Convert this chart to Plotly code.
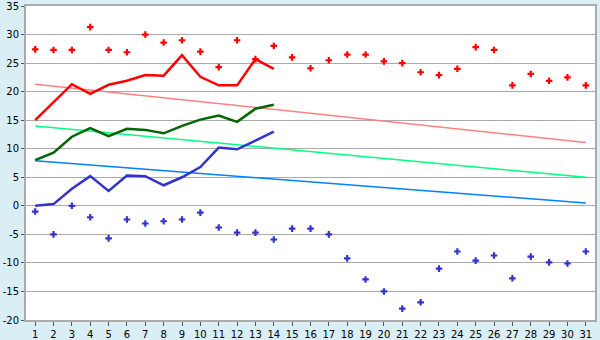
import plotly.graph_objects as go

days = list(range(1, 32))

max_points = [27.4, 27.3, 27.3, 31.3, 27.3, 26.9, 30.0, 28.6, 29.0, 27.0,
              24.3, 29.0, 25.7, 28.0, 26.0, 24.1, 25.5, 26.5, 26.5, 25.3,
              25.0, 23.4, 22.9, 24.0, 27.8, 27.3, 21.1, 23.1, 21.9, 22.5, 21.1]
min_points = [-1.0, -5.0, 0.0, -2.0, -5.7, -2.4, -3.1, -2.7, -2.4, -1.2,
              -3.8, -4.7, -4.7, -5.9, -4.0, -4.0, -5.0, -9.2, -12.9, -15.0,
              -18.0, -16.9, -11.0, -8.0, -9.6, -8.7, -12.7, -8.9, -9.9, -10.1, -8.0]

line_days = list(range(1, 15))
max_line = [15.0, 18.2, 21.3, 19.6, 21.2, 21.9, 22.9, 22.8, 26.4, 22.6, 21.1, 21.1, 25.7, 24.0]
mean_line = [8.0, 9.3, 12.1, 13.6, 12.2, 13.5, 13.3, 12.7, 14.0, 15.1, 15.8, 14.7, 17.0, 17.7]
min_line = [0.0, 0.3, 3.0, 5.2, 2.6, 5.3, 5.2, 3.6, 5.0, 6.8, 10.2, 9.9, 11.4, 13.0]

trend_days = [1, 31]
max_trend = [21.3, 11.1]
mean_trend = [14.0, 5.0]
min_trend = [7.9, 0.5]

y_tick_values = [-20, -15, -10, -5, 0, 5, 10, 15, 20, 25, 30, 35]
y_tick_labels = ["-20", "-15", "-10", "-5", "0", "5", "10", "15", "20", "25", "30", "35"]

fig = go.Figure()
for ys, c in [(max_trend, "#FF8080"), (mean_trend, "#00FF80"), (min_trend, "#0080FF")]:
    fig.add_trace(go.Scatter(x=trend_days, y=ys, mode="lines",
                             line=dict(color=c, width=1.5), hoverinfo="skip"))
for ys, c in [(max_line, "#FF0000"), (mean_line, "#006600"), (min_line, "#3333CC")]:
    fig.add_trace(go.Scatter(x=line_days, y=ys, mode="lines",
                             line=dict(color=c, width=2.5)))
fig.add_trace(go.Scatter(x=days, y=max_points, mode="markers",
                         marker=dict(symbol="cross", size=5.5, color="#FF0000")))
fig.add_trace(go.Scatter(x=days, y=min_points, mode="markers",
                         marker=dict(symbol="cross", size=5.5, color="#3333CC")))

fig.update_layout(
    width=600, height=340,
    margin=dict(l=26, r=5, t=6, b=20),
    paper_bgcolor="#DAEEF5", plot_bgcolor="#FFFFFF",
    showlegend=False,
    font=dict(family="DejaVu Sans", size=10, color="#000000"),
)
fig.update_xaxes(range=[0.5, 31.5], tickvals=days, ticks="outside", ticklen=4,
                 tickcolor="#555555", showgrid=False, showline=True,
                 linecolor="#AAAAAA", linewidth=2, mirror=True, zeroline=False,
                 tickfont=dict(size=10), automargin=False)
fig.update_yaxes(range=[-20, 35], tickvals=y_tick_values, ticktext=y_tick_labels,
                 ticks="outside", ticklen=3,
                 tickcolor="#555555", showgrid=True, gridcolor="#AAAAAA",
                 gridwidth=1, showline=True, linecolor="#AAAAAA", linewidth=2,
                 mirror=True, zeroline=False, tickfont=dict(size=10),
                 automargin=False)

fig.write_html("out.html")
